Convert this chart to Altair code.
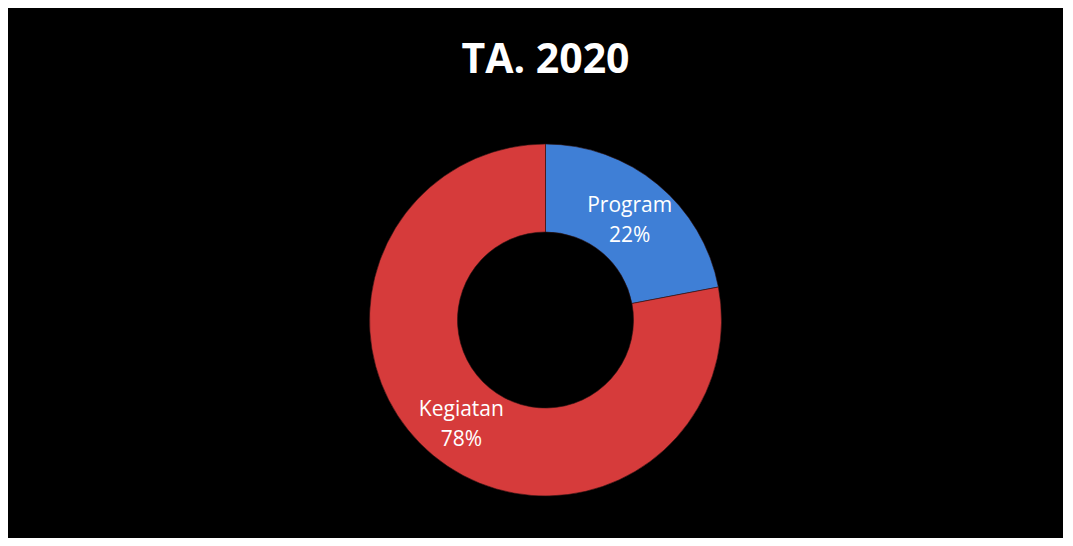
import altair as alt
import pandas as pd

categories = ["Program", "Kegiatan"]
shares = [22, 78]
labels = ["Program\n22%", "Kegiatan\n78%"]
colors = ["#3f7fd6", "#d63b3b"]

df = pd.DataFrame({"category": categories, "share": shares, "label": labels,
                   "order": list(range(len(categories)))})

base = alt.Chart(df).encode(
    theta=alt.Theta("share:Q", stack=True),
    order=alt.Order("order:Q"),
)

arcs = base.mark_arc(outerRadius=176, innerRadius=88, stroke="#2a1010", strokeWidth=0.6).encode(
    color=alt.Color("category:N", scale=alt.Scale(domain=categories, range=colors), legend=None)
)

text = base.mark_text(radius=132, fontSize=21, font="Open Sans", color="white",
                      lineBreak="\n", lineHeight=30, baseline="middle", align="center", dy=-12).encode(
    text="label:N"
)

chart = (arcs + text).properties(
    width=1035,
    height=436,
    padding={"left": 20, "top": 32, "right": 0, "bottom": 0},
    background="black",
    title=alt.TitleParams("TA. 2020", fontSize=41, fontWeight="bold", font="Open Sans",
                          color="white", anchor="middle", offset=20),
).configure_view(stroke=None)

chart.save("out.html", embed_options={"renderer": "svg", "actions": False})
